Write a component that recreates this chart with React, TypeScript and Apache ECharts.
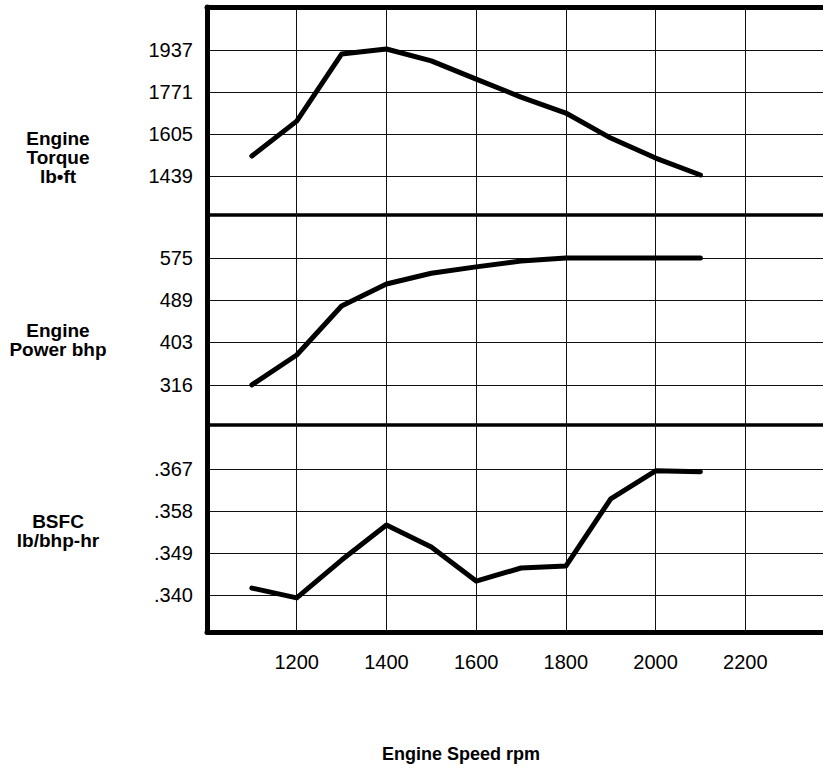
import React, { useEffect, useRef } from 'react';
import * as echarts from 'echarts';

// ---- data ----
const rpm = [1100, 1200, 1300, 1400, 1500, 1600, 1700, 1800, 1900, 2000, 2100];
const torque = [1518, 1656, 1921, 1941, 1894, 1822, 1751, 1688, 1589, 1510, 1443];
const power = [316, 377, 477, 522, 544, 557, 569, 575, 575, 575, 575];
const bsfc = [0.3415, 0.3394, 0.3475, 0.355, 0.3503, 0.343, 0.3458, 0.3462, 0.3606, 0.3666, 0.3664];

const xTicks = [1200, 1400, 1600, 1800, 2000, 2200];
const torqueTicks = [1439, 1605, 1771, 1937];
const powerTicks = [316, 403, 489, 575];
const bsfcTicks = [0.34, 0.349, 0.358, 0.367];

const panelTitles = ['Engine\nTorque\nlb\u2022ft', 'Engine\nPower bhp', 'BSFC\nlb/bhp-hr'];
const xTitle = 'Engine Speed rpm';

const FONT = '"Liberation Sans", Arial, Helvetica, sans-serif';

export default function App() {
  const ref = useRef<HTMLDivElement>(null);

  useEffect(() => {
    if (!ref.current) return;
    const chart = echarts.init(ref.current, undefined, { renderer: 'svg' });

    const panels = [
      { top: 7, height: 208, min: 1285, max: 2107, ticks: torqueTicks, values: torque, fmt: (v: number) => String(v) },
      { top: 215, height: 210, min: 234, max: 663, ticks: powerTicks, values: power, fmt: (v: number) => String(v) },
      {
        top: 425, height: 207, min: 0.3321, max: 0.3764, ticks: bsfcTicks, values: bsfc,
        fmt: (v: number) => v.toFixed(3).replace(/^0/, ''),
      },
    ];

    const titleY = [157, 340, 531];

    const option: any = {
      animation: false,
      backgroundColor: '#ffffff',
      textStyle: { fontFamily: FONT },
      grid: panels.map((p) => ({
        left: 207,
        top: p.top,
        width: 628,
        height: p.height,
        show: true,
        borderColor: '#000',
        borderWidth: 3,
        containLabel: false,
      })),
      xAxis: panels.map((p, i) => ({
        type: 'value',
        gridIndex: i,
        min: 1000,
        max: 2400,
        interval: 200,
        position: i === 0 ? 'top' : 'bottom',
        axisLine: {
          show: i !== 1,
          onZero: false,
          lineStyle: { color: '#000', width: 5 },
        },
        axisTick: { show: false },
        axisLabel: {
          show: i === 2,
          customValues: xTicks,
          formatter: (v: number) => String(v),
          fontSize: 20,
          color: '#000',
          fontFamily: FONT,
          margin: 20,
        },
        splitLine: { show: true, lineStyle: { color: '#111', width: 1 } },
      })),
      yAxis: panels.map((p, i) => ({
        type: 'value',
        gridIndex: i,
        min: p.min,
        max: p.max,
        axisLine: { show: true, onZero: false, lineStyle: { color: '#000', width: 5 } },
        axisTick: { show: false, customValues: p.ticks },
        axisLabel: {
          show: true,
          customValues: p.ticks,
          formatter: p.fmt,
          fontSize: 20,
          color: '#000',
          fontFamily: FONT,
          margin: 14,
        },
        splitLine: { show: true, lineStyle: { color: '#111', width: 1 } },
      })),
      series: panels.map((p, i) => ({
        type: 'line',
        xAxisIndex: i,
        yAxisIndex: i,
        data: rpm.map((x, j) => [x, p.values[j]]),
        showSymbol: false,
        symbol: 'none',
        lineStyle: { color: '#000', width: 5, join: 'round', cap: 'round' },
        z: 5,
      })),
      graphic: [
        ...panelTitles.map((t, i) => ({
          type: 'text',
          x: 58,
          y: titleY[i],
          style: {
            text: t,
            fontSize: 19,
            fontWeight: 'bold',
            fontFamily: FONT,
            fill: '#000',
            align: 'center',
            verticalAlign: 'middle',
            textAlign: 'center',
            textVerticalAlign: 'middle',
            lineHeight: 19,
          },
        })),
        {
          type: 'text',
          x: 461,
          y: 754,
          style: {
            text: xTitle,
            fontSize: 18,
            fontWeight: 'bold',
            fontFamily: FONT,
            fill: '#000',
            align: 'center',
            verticalAlign: 'middle',
            textAlign: 'center',
            textVerticalAlign: 'middle',
          },
        },
      ],
    };

    chart.setOption(option);
    return () => chart.dispose();
  }, []);

  return (
    <div
      style={{
        position: 'fixed',
        left: 0,
        top: 0,
        width: 823,
        height: 766,
        overflow: 'hidden',
        background: '#fff',
      }}
    >
      <div ref={ref} style={{ width: 850, height: 766 }} />
    </div>
  );
}
